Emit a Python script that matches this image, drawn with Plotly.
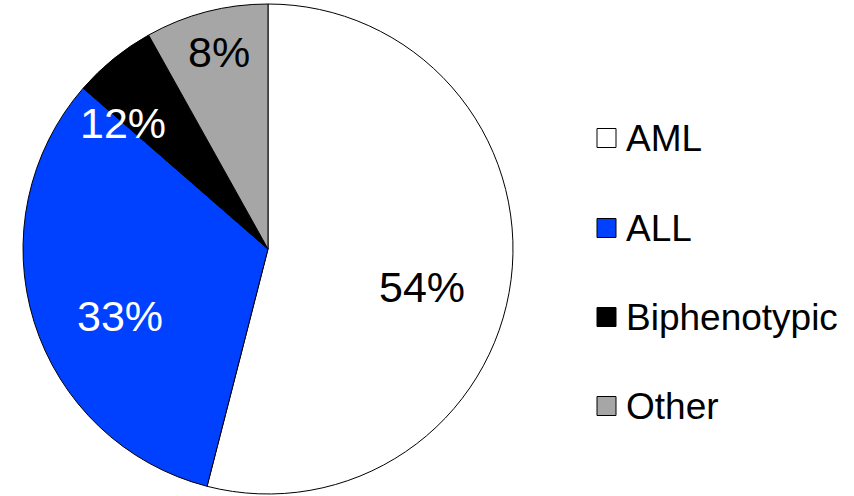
import plotly.graph_objects as go

W, H = 854, 496

categories = ["AML", "ALL", "Biphenotypic", "Other"]
values = [54.0, 32.4, 5.5, 8.1]
slice_labels = ["54%", "33%", "12%", "8%"]
colors = ["#FFFFFF", "#0040FF", "#000000", "#A6A6A6"]
label_colors = ["black", "white", "white", "black"]
# label centers in pixels (x, y from top)
label_pos = [(422, 287), (120, 316), (123, 123), (219, 52)]
legend_y = [138, 228, 317, 406]

FONT = "Arial, Liberation Sans, sans-serif"

fig = go.Figure()
fig.add_trace(go.Pie(
    labels=categories,
    values=values,
    sort=False,
    direction="clockwise",
    rotation=0,
    marker=dict(colors=colors, line=dict(color="black", width=1)),
    textinfo="none",
    hoverinfo="label+percent",
    showlegend=False,
    domain=dict(x=[23 / W, 513 / W], y=[2 / H, 492 / H]),
))

annotations = []
for txt, col, (px, py) in zip(slice_labels, label_colors, label_pos):
    annotations.append(dict(
        x=px / W, y=1 - py / H, xref="paper", yref="paper",
        text=txt, showarrow=False, xanchor="center", yanchor="middle",
        font=dict(family=FONT, size=43, color=col),
    ))

shapes = []
sq = 19
for cat, col, ly in zip(categories, colors, legend_y):
    shapes.append(dict(
        type="rect", xref="paper", yref="paper",
        x0=597 / W, x1=(597 + sq) / W,
        y0=1 - (ly + sq / 2) / H, y1=1 - (ly - sq / 2) / H,
        fillcolor=col, line=dict(color="black", width=1),
    ))
    annotations.append(dict(
        x=624 / W, y=1 - ly / H, xref="paper", yref="paper",
        text=cat, showarrow=False, xanchor="left", yanchor="middle",
        font=dict(family=FONT, size=37, color="black"),
    ))

fig.update_layout(
    width=W, height=H,
    margin=dict(l=0, r=0, t=0, b=0),
    paper_bgcolor="white", plot_bgcolor="white",
    annotations=annotations, shapes=shapes,
)

fig.write_html("out.html")
